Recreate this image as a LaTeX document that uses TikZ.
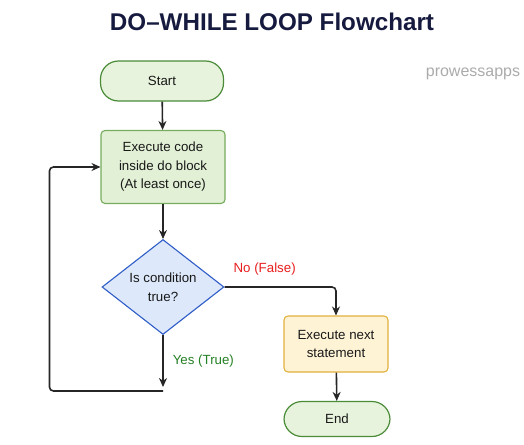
\documentclass[tikz,border=0pt]{standalone}
\usepackage{fontspec}
\setmainfont{Liberation Sans}
\usetikzlibrary{shapes.geometric,arrows.meta,positioning}
\definecolor{titleblue}{RGB}{22,26,62}
\definecolor{termfill}{RGB}{231,243,220}
\definecolor{termdraw}{RGB}{74,140,56}
\definecolor{procfill}{RGB}{226,240,214}
\definecolor{procdraw}{RGB}{118,172,92}
\definecolor{decfill}{RGB}{221,233,250}
\definecolor{decdraw}{RGB}{46,92,200}
\definecolor{nextfill}{RGB}{255,243,214}
\definecolor{nextdraw}{RGB}{226,176,62}
\definecolor{nored}{RGB}{232,30,30}
\definecolor{yesgreen}{RGB}{36,128,36}

\begin{document}
\begin{tikzpicture}[x=1pt, y=-1pt, >={Stealth[length=9pt,width=8pt]},
    every node/.style={font=\fontsize{13.3}{18.5}\selectfont, align=center, text=black!90},
    term/.style={rectangle, rounded corners=18pt, draw=termdraw, fill=termfill, line width=1.2pt},
    proc/.style={rectangle, rounded corners=4pt, draw=procdraw, fill=procfill, line width=1.1pt},
    dec/.style={diamond, draw=decdraw, fill=decfill, line width=1.1pt, inner sep=1pt, aspect=1.28},
    nextbox/.style={rectangle, rounded corners=4pt, draw=nextdraw, fill=nextfill, line width=1.1pt},
    flow/.style={->, line width=1.6pt, black!85, rounded corners=4pt}]

  \useasboundingbox (0,0) rectangle (524,444);

  \node[font=\fontsize{24.2}{28}\selectfont\bfseries, text=titleblue] (title) at (272,22) {DO–WHILE LOOP Flowchart};
  \node[font=\fontsize{16}{18}\selectfont, text=black!33] (brand) at (473,74) {prowessapps};

  \node[term, minimum width=123pt, minimum height=40pt] (start) at (162,81) {Start};
  \node[proc, minimum width=124pt, minimum height=73pt] (exec) at (163,167) {Execute code\\inside do block\\(At least once)};
  \node[dec, minimum width=122pt, minimum height=95pt] (cond) at (163,287) {Is condition\\true?};
  \node[nextbox, minimum width=104pt, minimum height=56pt] (next) at (336,344) {Execute next\\statement};
  \node[term, minimum width=106pt, minimum height=35pt] (end) at (337,419) {End};

  \coordinate (yes) at (163,387);
  \coordinate (back) at (163,391);

  \draw[flow] (start) -- (exec);
  \draw[flow] (exec) -- (cond);
  \draw[flow] (cond.east) -| node[pos=0.18, above=11pt, inner sep=0, text=nored] {No (False)} (next.north);
  \draw[flow] (cond.south) -- node[right=9pt, inner sep=0, text=yesgreen] {Yes (True)} (yes);
  \draw[flow] (back) -| ([xshift=-51pt]exec.west) -- (exec.west);
  \draw[flow] (next) -- (end);
\end{tikzpicture}
\end{document}
